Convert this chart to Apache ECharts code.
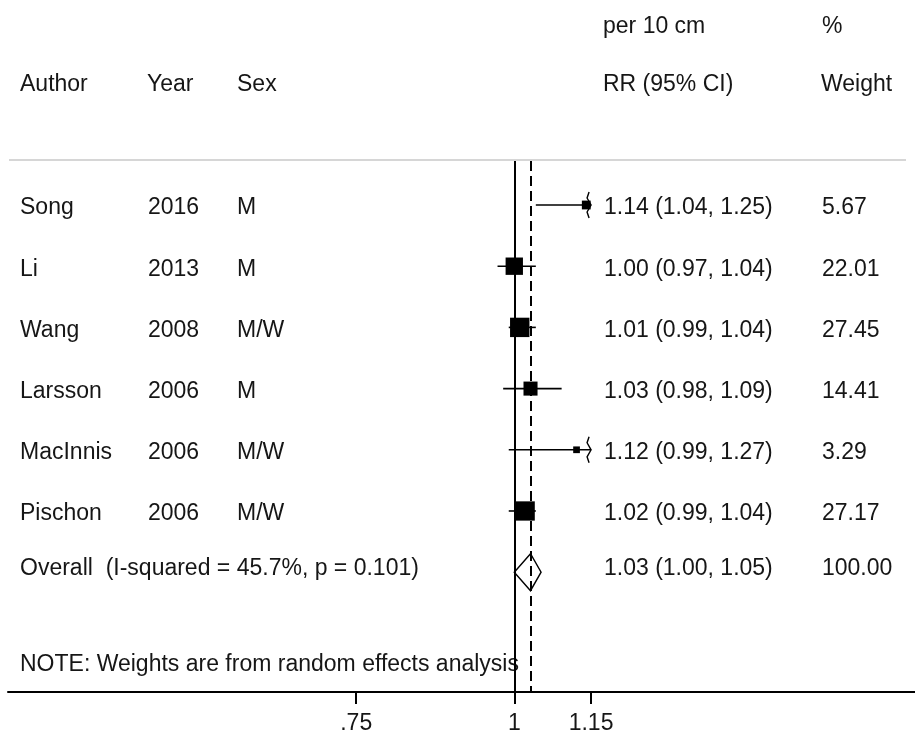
<!DOCTYPE html>
<html>
<head>
<meta charset="utf-8">
<title>Forest plot</title>
<script src="https://cdn.jsdelivr.net/npm/echarts@6/dist/echarts.min.js"></script>
<style>
  html, body { margin: 0; padding: 0; background: #fff; }
  #chart { width: 915px; height: 740px; }
</style>
</head>
<body>
<div id="chart"></div>
<script>
// Study-level estimates (relative risk per 10 cm, random effects)
const authors = ['Song', 'Li', 'Wang', 'Larsson', 'MacInnis', 'Pischon'];
const years   = ['2016', '2013', '2008', '2006', '2006', '2006'];
const sexes   = ['M', 'M', 'M/W', 'M', 'M/W', 'M/W'];
const rr      = [1.14, 1.00, 1.01, 1.03, 1.12, 1.02];
const lower   = [1.04, 0.97, 0.99, 0.98, 0.99, 0.99];
const upper   = [1.25, 1.04, 1.04, 1.09, 1.27, 1.04];
const weights = [5.67, 22.01, 27.45, 14.41, 3.29, 27.17];

// Pooled estimate
const overallLabel = 'Overall  (I-squared = 45.7%, p = 0.101)';
const overallRR = [1.03];
const overallLower = [1.00];
const overallUpper = [1.05];
const overallWeight = [100.00];

// Axis ticks
const tickValues = [0.75, 1, 1.15];
const tickLabels = ['.75', '1', '1.15'];

const FONT = '23px "Liberation Sans", Arial, sans-serif';
const INK = '#161616';
const COL_AUTHOR = 20, COL_YEAR = 148, COL_SEX = 237, COL_RR = 604, COL_W = 822;
const clipMin = tickValues[0], clipMax = tickValues[tickValues.length - 1];

const fmt = v => v.toFixed(2);
const txt = (s, x, y) => ({
  type: 'text',
  style: { text: s, x: x, y: y, font: FONT, fill: INK, align: 'left', verticalAlign: 'middle' }
});

const studyData = authors.map((a, i) => [rr[i], i, lower[i], upper[i], weights[i]]);
const pooledRow = authors.length;
const pooledData = [[overallRR[0], pooledRow, overallLower[0], overallUpper[0], overallWeight[0]]];

// One row per study: CI line, weight-scaled box, clipping arrows and the text columns
function renderStudy(params, api) {
  const i = params.dataIndex;
  const est = api.value(0), row = api.value(1), lo = api.value(2), hi = api.value(3), w = api.value(4);
  const y = api.coord([1, row])[1];
  const xLo = api.coord([Math.max(lo, clipMin), row])[0];
  const xHi = api.coord([Math.min(hi, clipMax), row])[0];
  const xE = api.coord([est, row])[0];
  const side = 3.7 * Math.sqrt(w);
  const children = [
    { type: 'line', shape: { x1: xLo, y1: y, x2: xHi, y2: y }, style: { stroke: '#000', lineWidth: 1.6 } },
    { type: 'rect', shape: { x: xE - side / 2, y: y - side / 2, width: side, height: side }, style: { fill: '#000' } }
  ];
  if (hi > clipMax) {
    children.push({ type: 'polyline', shape: { points: [[xHi - 2, y - 13], [xHi - 4, y - 7], [xHi, y], [xHi - 4, y + 7], [xHi - 2, y + 13]] },
      style: { stroke: '#000', lineWidth: 1.4, fill: null } });
  }
  if (lo < clipMin) {
    children.push({ type: 'polyline', shape: { points: [[xLo + 2, y - 13], [xLo + 4, y - 7], [xLo, y], [xLo + 4, y + 7], [xLo + 2, y + 13]] },
      style: { stroke: '#000', lineWidth: 1.4, fill: null } });
  }
  const ty = y + 3;
  children.push(txt(authors[i], COL_AUTHOR, ty));
  children.push(txt(years[i], COL_YEAR, ty));
  children.push(txt(sexes[i], COL_SEX, ty));
  children.push(txt(fmt(est) + ' (' + fmt(lo) + ', ' + fmt(hi) + ')', COL_RR, ty));
  children.push(txt(fmt(w), COL_W, ty));
  return { type: 'group', children: children };
}

// Pooled row: hollow diamond spanning the pooled CI
function renderPooled(params, api) {
  const est = api.value(0), row = api.value(1), lo = api.value(2), hi = api.value(3), w = api.value(4);
  const pE = api.coord([est, row]);
  const xLo = api.coord([lo, row])[0];
  const xHi = api.coord([hi, row])[0];
  const y = pE[1], h = 18.5;
  const ty = y - 4;
  return {
    type: 'group',
    children: [
      { type: 'polygon', shape: { points: [[xLo, y], [pE[0], y - h], [xHi, y], [pE[0], y + h]] },
        style: { fill: '#fff', stroke: '#000', lineWidth: 1.4 } },
      txt(overallLabel, COL_AUTHOR, ty),
      txt(fmt(est) + ' (' + fmt(lo) + ', ' + fmt(hi) + ')', COL_RR, ty),
      txt(fmt(w), COL_W, ty)
    ]
  };
}

const chart = echarts.init(document.getElementById('chart'), null, { renderer: 'canvas' });

chart.setOption({
  animation: false,
  backgroundColor: '#fff',
  grid: { left: 8, right: 0, top: 161, bottom: 48, containLabel: false },
  xAxis: {
    type: 'log',
    logBase: Math.E,
    min: 0.398,
    max: 2.0735,
    splitLine: { show: false },
    axisLine: { show: true, onZero: false, lineStyle: { color: '#000', width: 2 } },
    axisTick: { show: true, customValues: tickValues, length: 12, inside: false, lineStyle: { color: '#000', width: 2 } },
    axisLabel: {
      show: true, customValues: tickValues, margin: 20,
      color: INK, fontSize: 23, fontFamily: '"Liberation Sans", Arial, sans-serif',
      formatter: function (v) {
        let best = 0;
        tickValues.forEach((t, k) => { if (Math.abs(t - v) < Math.abs(tickValues[best] - v)) best = k; });
        return tickLabels[best];
      }
    }
  },
  yAxis: {
    type: 'value', inverse: true, min: -0.719, max: 7.958, show: false
  },
  graphic: [
    { type: 'line', shape: { x1: 9, y1: 160, x2: 906, y2: 160 }, style: { stroke: '#d6d6d6', lineWidth: 2 }, silent: true },
    { type: 'text', style: { text: 'per 10 cm', x: 603, y: 27, font: FONT, fill: INK, verticalAlign: 'middle' } },
    { type: 'text', style: { text: '%', x: 822, y: 27, font: FONT, fill: INK, verticalAlign: 'middle' } },
    { type: 'text', style: { text: 'Author', x: 20, y: 85, font: FONT, fill: INK, verticalAlign: 'middle' } },
    { type: 'text', style: { text: 'Year', x: 147, y: 85, font: FONT, fill: INK, verticalAlign: 'middle' } },
    { type: 'text', style: { text: 'Sex', x: 237, y: 85, font: FONT, fill: INK, verticalAlign: 'middle' } },
    { type: 'text', style: { text: 'RR (95% CI)', x: 603, y: 85, font: FONT, fill: INK, verticalAlign: 'middle' } },
    { type: 'text', style: { text: 'Weight', x: 821, y: 85, font: FONT, fill: INK, verticalAlign: 'middle' } },
    { type: 'text', style: { text: 'NOTE: Weights are from random effects analysis', x: 20, y: 665, font: FONT, fill: INK, verticalAlign: 'middle' } }
  ],
  series: [
    {
      type: 'custom',
      name: 'studies',
      renderItem: renderStudy,
      encode: { x: 0, y: 1 },
      data: studyData,
      clip: false,
      z: 3,
      markLine: {
        silent: true,
        symbol: 'none',
        label: { show: false },
        animation: false,
        data: [
          { xAxis: 1, lineStyle: { color: '#000', width: 2, type: 'solid' } },
          { xAxis: overallRR[0], lineStyle: { color: '#000', width: 2, type: [10, 5] } }
        ]
      }
    },
    {
      type: 'custom',
      name: 'pooled',
      renderItem: renderPooled,
      encode: { x: 0, y: 1 },
      data: pooledData,
      clip: false,
      z: 4
    }
  ]
});
</script>
</body>
</html>
